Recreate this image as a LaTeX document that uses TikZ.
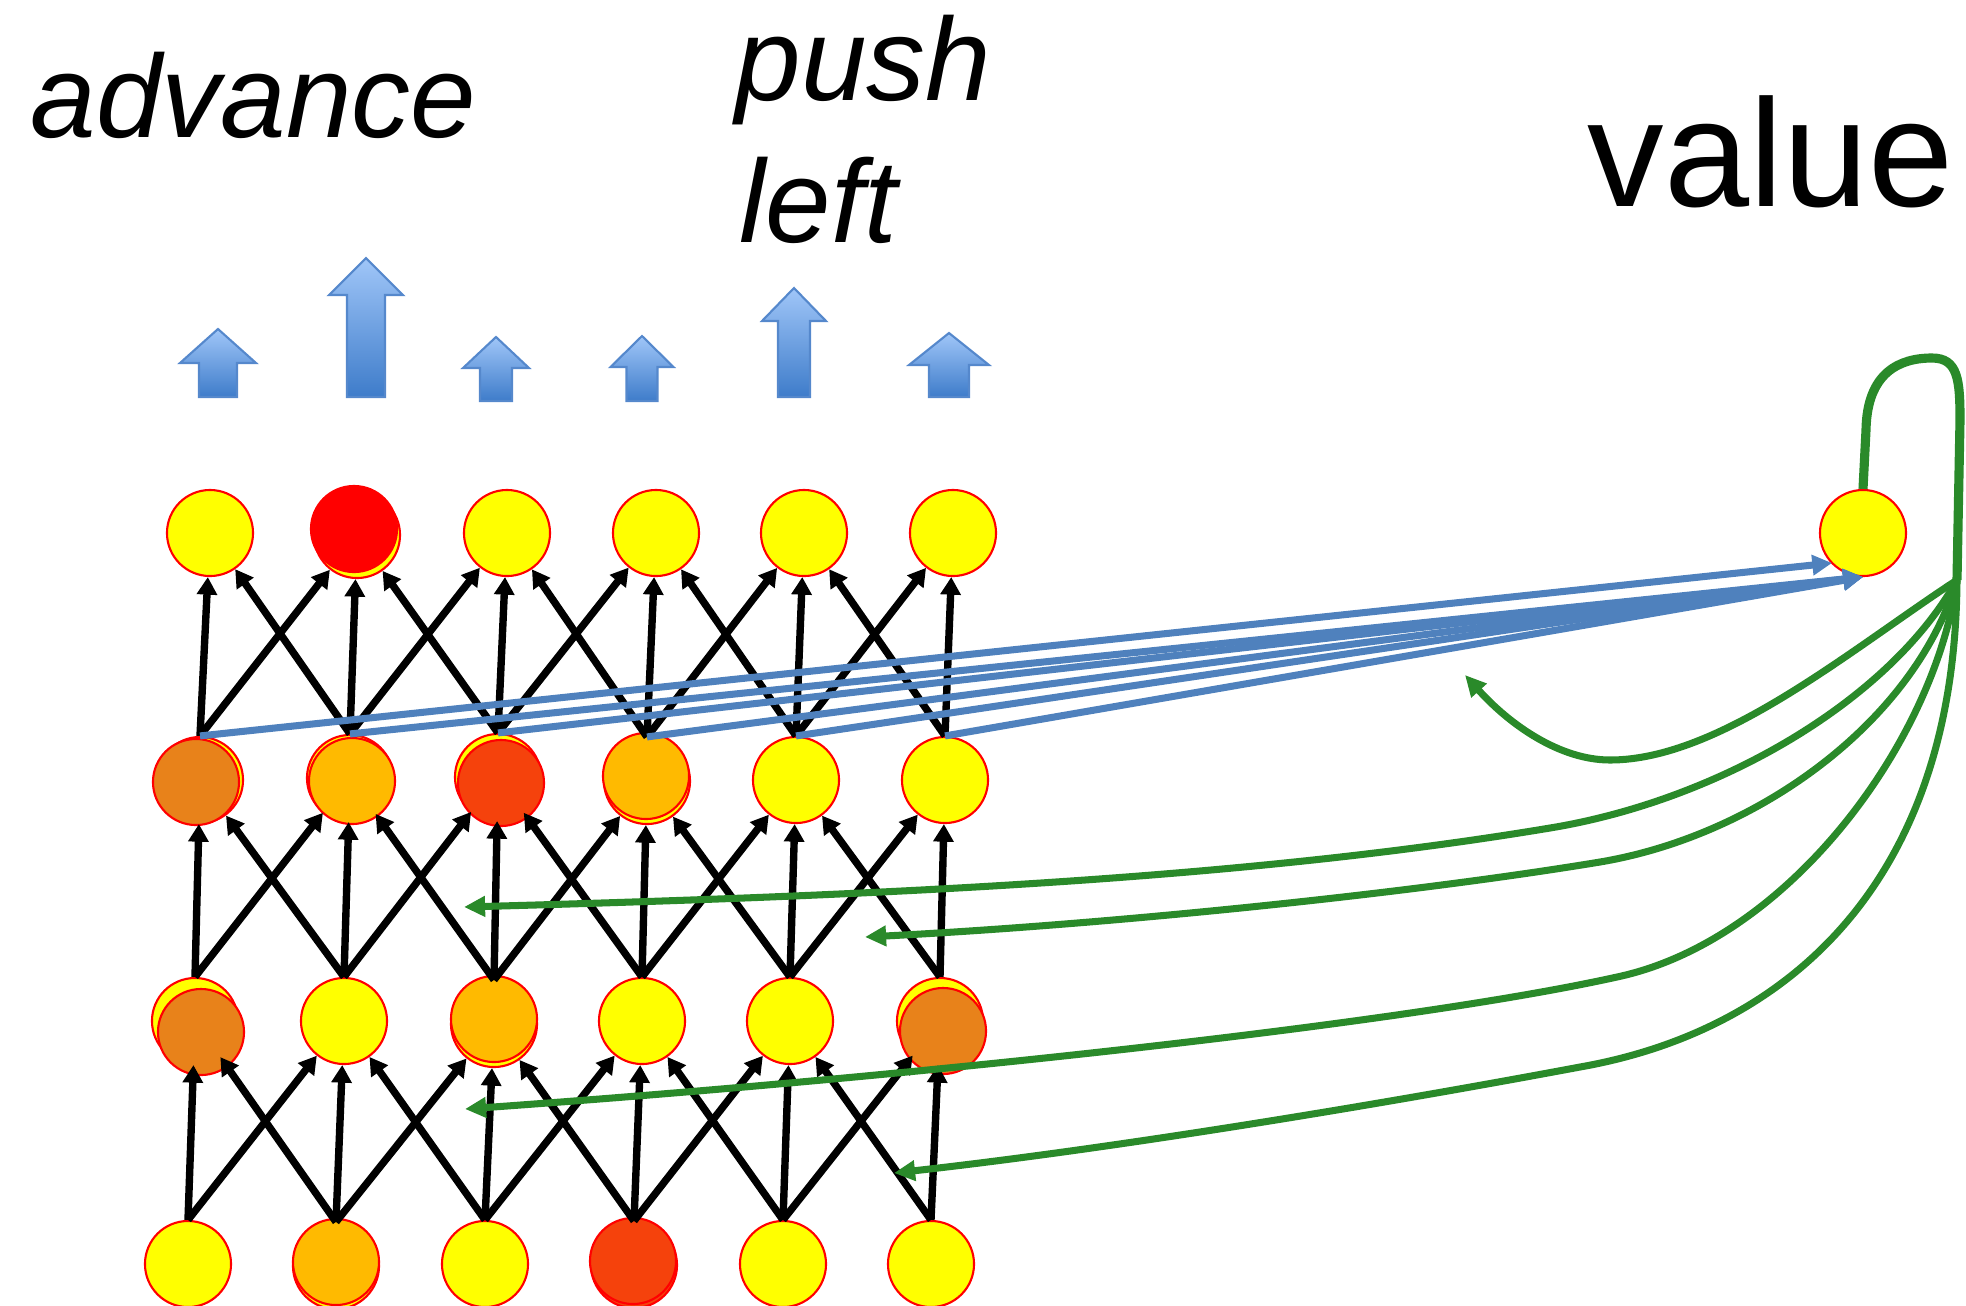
\documentclass[tikz,border=0pt]{standalone}
\usepackage{fontspec}
\setmainfont{Liberation Sans}
\usetikzlibrary{arrows.meta}
\definecolor{nyellow}{HTML}{FFFF00}
\definecolor{nred}{HTML}{FF0000}
\definecolor{corange}{HTML}{E8821A}
\definecolor{camber}{HTML}{FFBA00}
\definecolor{credorange}{HTML}{F5420C}
\definecolor{bluel}{HTML}{4F81BD}
\definecolor{greenl}{HTML}{2A8A2A}
\definecolor{arrtop}{HTML}{A0C6F8}
\definecolor{arrbot}{HTML}{3E7CCA}
\definecolor{arredge}{HTML}{5588CC}
\newcommand{\blockarr}[6]{% cx, tip y, head base y, half head, half shaft, bottom y
  \shadedraw[bigarrow] (#1,#2) -- (#1+#4,#3) -- (#1+#5,#3) -- (#1+#5,#6) -- (#1-#5,#6) -- (#1-#5,#3) -- (#1-#4,#3) -- cycle;}
\begin{document}
\begin{tikzpicture}[x=0.01cm,y=-0.01cm,
  neuron/.style={circle,minimum size=0.86cm,inner sep=0pt,draw=nred,line width=0.6pt,fill=nyellow},
  ovl/.style={neuron,fill=#1},
  barrow/.style={line width=2.1pt,-{Triangle[length=5pt,width=5.6pt]}},
  bluearr/.style={draw=bluel,line width=2pt,-{Triangle[length=5.6pt,width=5.6pt]}},
  greenarr/.style={draw=greenl,line width=2pt,-{Triangle[length=6pt,width=5.6pt]}},
  loopline/.style={draw=greenl,line width=2.6pt},
  txtlabel/.style={anchor=base west,inner sep=0pt,font=\fontsize{33.5}{40}\selectfont\itshape},
  bigarrow/.style={top color=arrtop,bottom color=arrbot,draw=arredge,line width=0.6pt}
]
\useasboundingbox (0,0) rectangle (1966,1305);
\clip (0,0) rectangle (1966,1305);

% ---- row 1 (top)
\node[neuron] (n-1-1) at (210,533) {};
\node[neuron] (n-1-2) at (357,535) {};
\node[ovl=nred] (o-1-2) at (354,529) {};
\node[neuron] (n-1-3) at (507,533) {};
\node[neuron] (n-1-4) at (656,533) {};
\node[neuron] (n-1-5) at (804,533) {};
\node[neuron] (n-1-6) at (953,533) {};
% ---- row 2
\node[neuron] (n-2-1) at (200,780) {};
\node[ovl=corange] (o-2-1) at (196,782) {};
\node[neuron] (n-2-2) at (350,778) {};
\node[ovl=camber] (o-2-2) at (352,781) {};
\node[neuron] (n-2-3) at (498,777) {};
\node[ovl=credorange] (o-2-3) at (501,783) {};
\node[neuron] (n-2-4) at (647,781) {};
\node[ovl=camber] (o-2-4) at (646,776) {};
\node[neuron] (n-2-5) at (796,780) {};
\node[neuron] (n-2-6) at (945,780) {};
% ---- row 3
\node[neuron] (n-3-1) at (195,1021) {};
\node[ovl=corange] (o-3-1) at (201,1032) {};
\node[neuron] (n-3-2) at (344,1021) {};
\node[neuron] (n-3-3) at (494,1024) {};
\node[ovl=camber] (o-3-3) at (494,1019) {};
\node[neuron] (n-3-4) at (642,1021) {};
\node[neuron] (n-3-5) at (790,1021) {};
\node[neuron] (n-3-6) at (940,1021) {};
\node[ovl=corange] (o-3-6) at (943,1031) {};
% ---- row 4 (bottom)
\node[neuron] (n-4-1) at (188,1264) {};
\node[neuron] (n-4-2) at (336,1266) {};
\node[ovl=camber] (o-4-2) at (336,1262) {};
\node[neuron] (n-4-3) at (485,1264) {};
\node[ovl=credorange] (n-4-4) at (634,1265) {};
\node[ovl=credorange] (o-4-4) at (633,1261) {};
\node[neuron] (n-4-5) at (783,1264) {};
\node[neuron] (n-4-6) at (931,1264) {};
% ---- value unit
\node[neuron] (val) at (1863,533) {};

% ---- black connections
\foreach \lo/\up in {2/1,3/2,4/3}{
  \foreach \j in {1,...,6}{
    \draw[barrow] (n-\lo-\j.north) -- (n-\up-\j);
    \ifnum\j>1
      \pgfmathtruncatemacro{\jl}{\j-1}
      \draw[barrow] (n-\lo-\j.north) -- (n-\up-\jl);
    \fi
    \ifnum\j<6
      \pgfmathtruncatemacro{\jr}{\j+1}
      \draw[barrow] (n-\lo-\j.north) -- (n-\up-\jr);
    \fi
  }
}

% ---- blue connections to value
\coordinate (tipA) at (1832,563);
\coordinate (tipB) at (1863,577);
\draw[bluearr] (n-2-1.north) -- (tipA);
\foreach \j in {2,...,6}{
  \draw[bluearr] (n-2-\j.north) -- (tipB);
}

% ---- green loop and backward curves
\coordinate (hub) at (1957,580);
\draw[loopline] (val.north) -- (1866,430) .. controls (1867,372) and (1900,358) .. (1932,358)
  .. controls (1958,358) and (1960,380) .. (1960,420) -- (hub);
\coordinate (ta) at (1465,675);
\coordinate (tb) at (464,907);
\coordinate (tc) at (865,937);
\coordinate (td) at (465,1109);
\coordinate (te) at (894,1173);
\draw[greenarr] (hub) .. controls (1850,650) and (1720,760) .. (1610,760)
  .. controls (1560,760) and (1510,725) .. (ta);
\draw[greenarr] (hub) .. controls (1890,700) and (1720,800) .. (1550,828)
  .. controls (1250,878) and (900,895) .. (tb);
\draw[greenarr] (hub) .. controls (1915,720) and (1760,835) .. (1600,862)
  .. controls (1400,895) and (1100,925) .. (tc);
\draw[greenarr] (hub) .. controls (1935,740) and (1790,940) .. (1617,977)
  .. controls (1400,1025) and (900,1078) .. (td);
\draw[greenarr] (hub) .. controls (1955,880) and (1790,1030) .. (1580,1067)
  .. controls (1350,1110) and (1100,1150) .. (te);

% ---- block arrows (outputs)
\blockarr{218}{329}{363}{38}{19}{397}
\blockarr{366}{258}{295}{37}{19}{397}
\blockarr{496}{337}{368}{33}{16}{401}
\blockarr{642}{336}{367}{31.5}{15.5}{401}
\blockarr{794}{288}{321}{32}{16}{397}
\blockarr{949}{333}{365}{40}{20}{397}

% ---- texts
\node[txtlabel] (adv) at (30,137) {advance};
\node[txtlabel] (push) at (735,100) {push};
\node[txtlabel] (left) at (739,242) {left};
\node[anchor=base west,inner sep=0pt,font=\fontsize{43.5}{50}\selectfont] (valtxt) at (1587,206) {value};
\end{tikzpicture}
\end{document}
